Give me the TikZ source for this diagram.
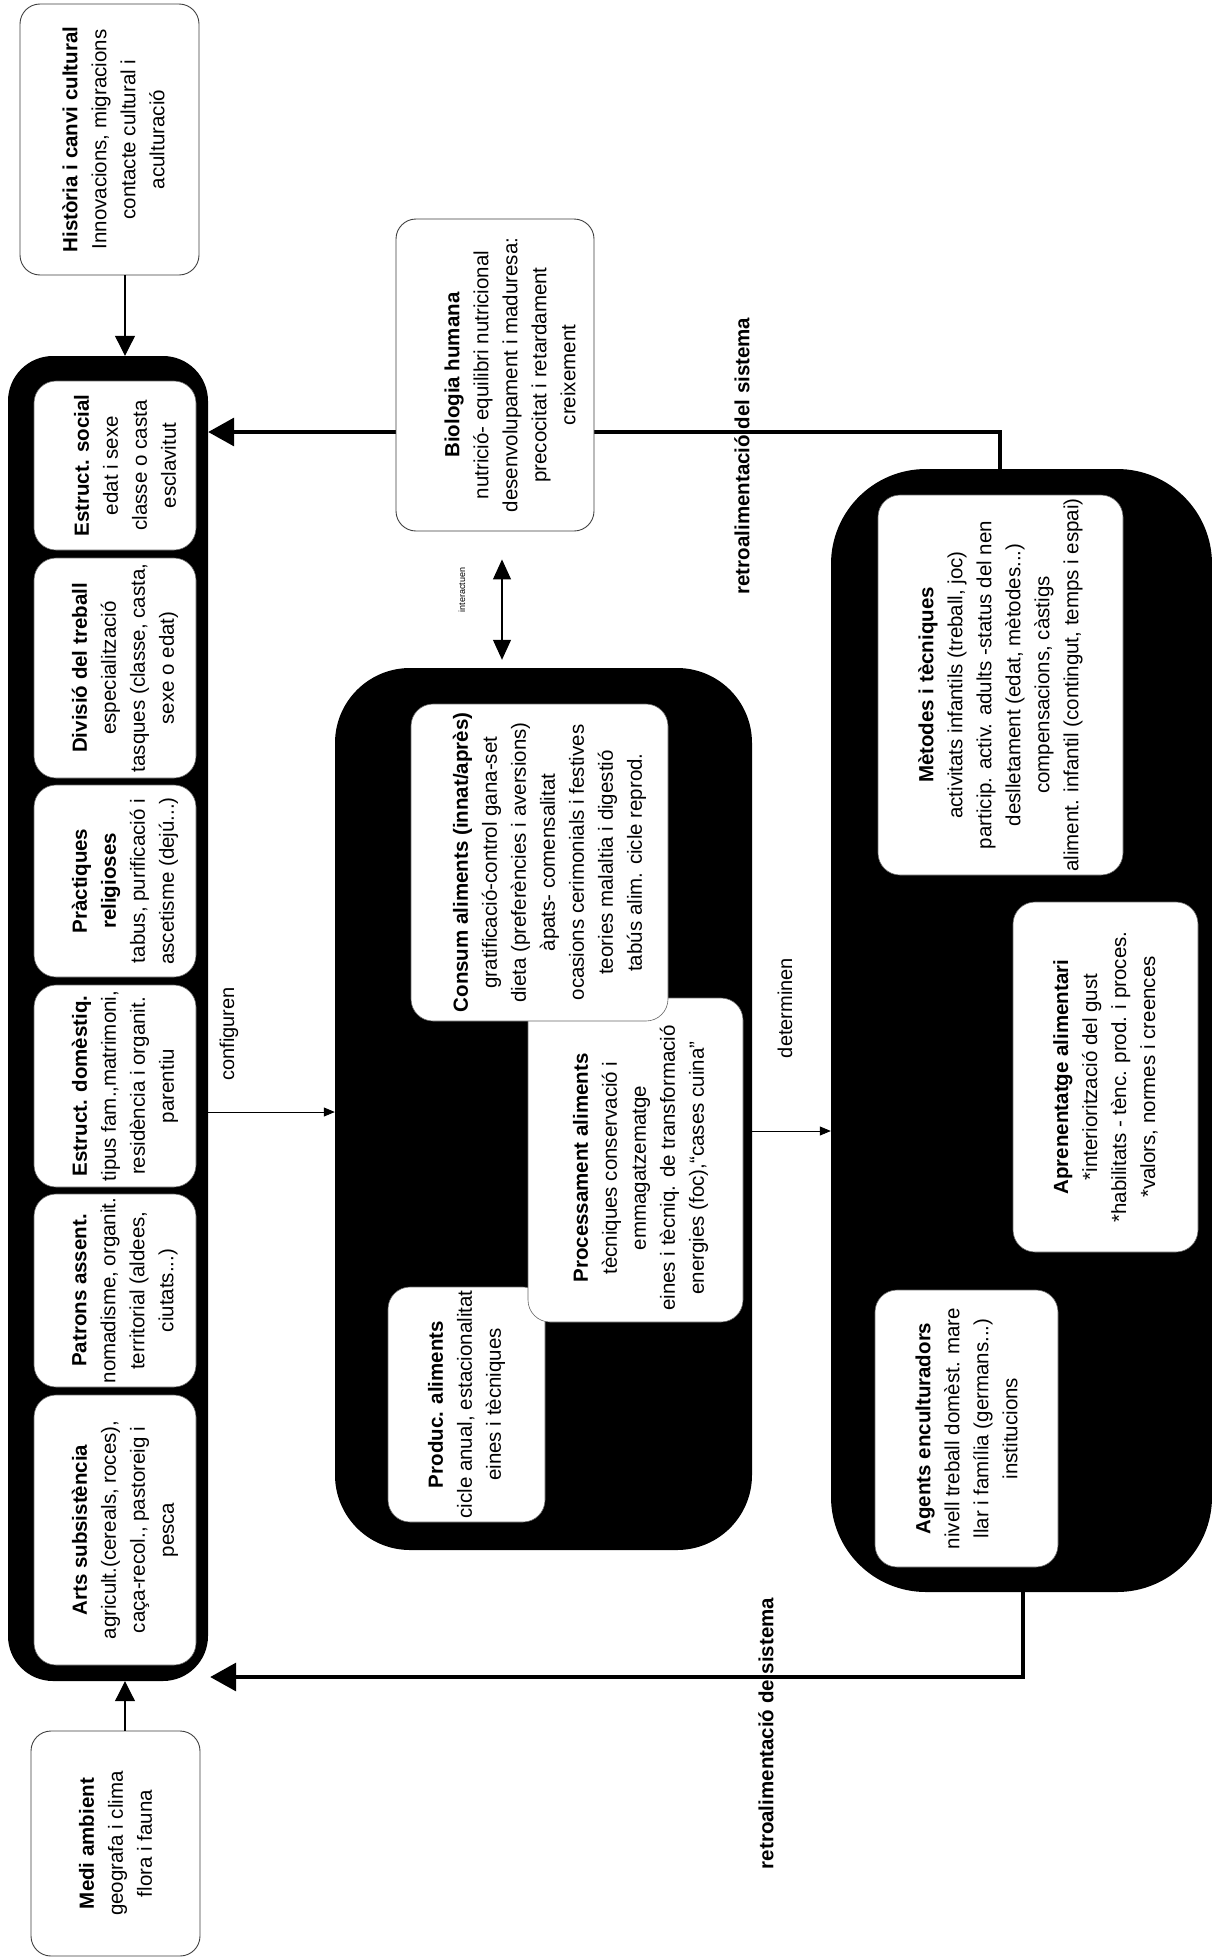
\documentclass[tikz,border=0pt]{standalone}
\usepackage{fontspec}
\setmainfont{Liberation Sans}
\usetikzlibrary{arrows.meta,calc}
\begin{document}
\begin{tikzpicture}[x=1pt,y=1pt,
  wbox/.style={draw=black!75, line width=0.9pt, fill=white, rounded corners=20pt, inner sep=0pt},
  ibox/.style={fill=white, draw=black!60, line width=0.6pt, rounded corners=22pt, inner sep=0pt},
  blk/.style={fill=black, draw=none, inner sep=0pt},
  txt/.style={rotate=90, align=center, inner sep=0pt, font=\fontsize{20.5}{29}\selectfont},
  lbl/.style={rotate=90, inner sep=0pt, font=\fontsize{20}{24}\selectfont},
  fblbl/.style={rotate=90, inner sep=0pt, font=\fontsize{20.5}{24}\selectfont\bfseries},
  thinarr/.style={line width=1.1pt, -{Triangle[length=20pt,width=20pt]}},
  dblarr/.style={line width=1.1pt, {Triangle[length=20pt,width=18pt]}-{Triangle[length=20pt,width=18pt]}},
  smallarr/.style={line width=0.8pt, -{Triangle[length=11pt,width=9pt]}},
  fbarr/.style={line width=3.5pt, -{Triangle[length=26pt,width=28pt]}}
]
\fill[white] (0,0) rectangle (1212,-1959);
\useasboundingbox (0,0) rectangle (1212,-1959);

% helper coordinates
\coordinate (ax) at (125,0);
\coordinate (ix) at (502,0);
\coordinate (fxa) at (1000,0);
\coordinate (fxb) at (1023,0);
\coordinate (fya) at (0,-432);
\coordinate (fyb) at (0,-1677);
\coordinate (cy) at (0,-1112);
\coordinate (dy) at (0,-1131);

% ---------- left column ----------
\node[blk, rounded corners=45pt, minimum width=200, minimum height=1325] (left) at (108,-1018.5) {};
\node[ibox, minimum width=162, minimum height=169] (ls) at (115,-465.5) {};
\node[ibox, minimum width=162, minimum height=220] (ld) at (115,-668) {};
\node[ibox, minimum width=162, minimum height=192] (lp) at (115,-881) {};
\node[ibox, minimum width=162, minimum height=202] (ldm) at (115,-1086) {};
\node[ibox, minimum width=162, minimum height=193] (lpa) at (115,-1290.5) {};
\node[ibox, minimum width=162, minimum height=270] (la) at (115,-1530) {};
\node[txt] (ls-t) at ([xshift=10pt]ls.center) {\textbf{Estruct. social}\\edat i sexe\\classe o casta\\esclavitut};
\node[txt] (ld-t) at ([xshift=10pt]ld.center) {\textbf{Divisió del treball}\\especialització\\tasques (classe, casta,\\sexe o edat)};
\node[txt] (lp-t) at ([xshift=10pt]lp.center) {\textbf{Pràctiques}\\\textbf{religioses}\\tabus, purificació i\\ascetisme (dejú...)};
\node[txt] (ldm-t) at ([xshift=10pt]ldm.center) {\textbf{Estruct. domèstiq.}\\tipus fam.,matrimoni,\\residència i organit.\\parentiu};
\node[txt] (lpa-t) at ([xshift=10pt]lpa.center) {\textbf{Patrons assent.}\\nomadisme, organit.\\territorial (aldees,\\ciutats...)};
\node[txt] (la-t) at ([xshift=10pt]la.center) {\textbf{Arts subsistència}\\agricult.(cereals, roces),\\caça-recol., pastoreig i\\pesca};

% ---------- middle block ----------
\node[blk, rounded corners=75pt, minimum width=417, minimum height=882] (mid) at (543.5,-1109) {};
\node[ibox, minimum width=157, minimum height=235] (prod) at (466.5,-1404.5) {};
\node[ibox, minimum width=215, minimum height=324] (proc) at (635.5,-1160) {};
\node[ibox, minimum width=257, minimum height=317] (cons) at (539.5,-862.5) {};
\node[txt] (prod-t) at (prod.center) {\textbf{Produc. aliments}\\cicle anual, estacionalitat\\eines i tècniques};
\node[txt] (proc-t) at ([xshift=5pt,yshift=-8pt]proc.center) {\textbf{Processament aliments}\\tècniques conservació i\\emmagatzematge\\eines i tècniq. de transformació\\energies (foc),“cases cuina”};
\node[txt] (cons-t) at ([xshift=10pt]cons.center) {\textbf{Consum aliments (innat/après)}\\gratificació-control gana-set\\dieta (preferències i aversions)\\àpats- comensalitat\\ocasions cerimonials i festives\\teories malaltia i digestió\\tabús alim. cicle reprod.};

% ---------- right block ----------
\node[blk, rounded corners=95pt, minimum width=381, minimum height=1123] (right) at (1021.5,-1030.5) {};
\node[ibox, minimum width=245, minimum height=380] (met) at (1000.5,-685) {};
\node[ibox, minimum width=185, minimum height=350] (apr) at (1105.5,-1077) {};
\node[ibox, minimum width=183, minimum height=277] (ag) at (966.5,-1428.5) {};
\node[txt] (met-t) at (met.center) {\textbf{Mètodes i tècniques}\\activitats infantils (treball, joc)\\particip. activ. adults -status del nen\\deslletament (edat, mètodes...)\\compensacions, càstigs\\aliment. infantil (contingut, temps i espai)};
\node[txt] (apr-t) at (apr.center) {\textbf{Aprenentatge alimentari}\\*interiorització del gust\\*habilitats - tènc. prod. i proces.\\*valors, normes i creences};
\node[txt] (ag-t) at (ag.center) {\textbf{Agents enculturadors}\\nivell treball domèst. mare\\llar i família (germans...)\\institucions};

% ---------- feedback lines ----------
\draw[fbarr] (right.north -| fxa) |- (left.east |- fya);
\draw[fbarr] (right.south -| fxb) |- ([xshift=2pt]left.east |- fyb);
\node[fblbl] (fb1) at (742,-456) {retroalimentació del sistema};
\node[fblbl] (fb2) at (766,-1733.5) {retroalimentació de sistema};

% ---------- outer boxes ----------
\node[wbox, minimum width=198, minimum height=312] (bio) at (495,-375) {};
\node[txt] (bio-t) at ([xshift=15pt]bio.center) {\textbf{Biologia humana}\\nutrició- equilibri nutricional\\desenvolupament i maduresa:\\precocitat i retardament\\creixement};
\node[wbox, minimum width=179, minimum height=271] (hist) at (109.5,-139.5) {};
\node[txt] (hist-t) at ([xshift=4pt]hist.center) {\textbf{Història i canvi cultural}\\Innovacions, migracions\\contacte cultural i\\aculturació};
\node[wbox, minimum width=169, minimum height=225] (medi) at (115.5,-1843.5) {};
\node[txt] (medi-t) at (medi.center) {\textbf{Medi ambient}\\geografa i clima\\flora i fauna};

% ---------- connectors ----------
\draw[thinarr] (hist.south -| ax) -- (left.north -| ax);
\draw[thinarr] (medi.north -| ax) -- (left.south -| ax);
\draw[dblarr] ($(bio.south -| ix)+(0,-28)$) -- ($(mid.north -| ix)+(0,8)$);
\draw[smallarr] (left.east |- cy) -- (mid.west |- cy);
\draw[smallarr] (mid.east |- dy) -- (right.west |- dy);

% ---------- labels ----------
\node[lbl] (conf) at (229,-1034) {configuren};
\node[lbl] (det) at (785,-1008) {determinen};
\node[rotate=90, inner sep=0pt, font=\fontsize{9}{10}\selectfont] (inter) at (462,-590) {interactuen};
\end{tikzpicture}
\end{document}
